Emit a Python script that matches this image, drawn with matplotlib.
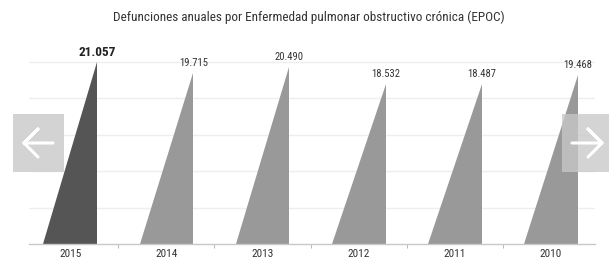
import matplotlib
matplotlib.use('Agg')
import matplotlib.pyplot as plt
import numpy as np
from matplotlib import font_manager
from matplotlib.patches import Polygon, Rectangle
from matplotlib.lines import Line2D

# datos
years = ['2015', '2014', '2013', '2012', '2011', '2010']
deaths = [21057, 19715, 20490, 18532, 18487, 19468]
labels = ['21.057', '19.715', '20.490', '18.532', '18.487', '19.468']
title = 'Defunciones anuales por Enfermedad pulmonar obstructivo crónica (EPOC)'

# fuente estrecha si existe
fam = ['DejaVu Sans']
narrow = False
for cand in ['DejaVu Sans Condensed', 'Liberation Sans Narrow', 'Roboto Condensed']:
    try:
        font_manager.findfont(cand, fallback_to_default=False)
        fam = [cand, 'DejaVu Sans']
        narrow = True
        break
    except Exception:
        pass
plt.rcParams['font.family'] = fam
f = 1.12 if narrow else 1.0

W, H = 609, 257
fig = plt.figure(figsize=(W / 100, H / 100), dpi=100)
fig.patch.set_facecolor('white')

# ejes en pixeles
ax_l, ax_r, ax_b, ax_t = 29, 595, 257 - 244.3, 257 - 40
ax = fig.add_axes([ax_l / W, ax_b / H, (ax_r - ax_l) / W, (ax_t - ax_b) / H])
ymax = (ax_t - ax_b) / (182.6 / max(deaths))
ax.set_xlim(-0.43, 5.46)
ax.set_ylim(0, ymax)

# rejilla
step = max(deaths) / 5
for k in range(1, 6):
    ax.axhline(step * k, color='#eeeeee', lw=1, zorder=0)

hw = 0.28
for i, (y, v) in enumerate(zip(years, deaths)):
    col = '#555555' if i == 0 else '#999999'
    tri = Polygon([(i - hw, 0), (i + hw, 0), (i + hw, v)], closed=True,
                  facecolor=col, edgecolor='none', zorder=2)
    ax.add_patch(tri)
    if i == 0:
        ax.annotate(labels[i], (i + hw, v), xytext=(0, 3), textcoords='offset pixels',
                    ha='center', va='bottom', fontsize=8.5 * f, fontweight='bold',
                    color='#222222')
    else:
        ax.annotate(labels[i], (i + hw, v), xytext=(0, 5), textcoords='offset pixels',
                    ha='center', va='bottom', fontsize=6.8 * f, color='#333333')

for s in ['top', 'right', 'left']:
    ax.spines[s].set_visible(False)
ax.spines['bottom'].set_color('#c8c8c8')
ax.spines['bottom'].set_linewidth(1)
ax.set_yticks([])
ax.set_xticks(range(len(years)))
ax.set_xticklabels(years, fontsize=7.2 * f, color='#333333')
ax.tick_params(axis='x', which='major', length=0, pad=3.4)
ax.set_xticks(np.arange(0.5, 5, 1), minor=True)
ax.tick_params(axis='x', which='minor', length=3, color='#bbbbbb', width=0.8)

fig.text(309 / W, 1 - 17.5 / H, title, ha='center', va='center',
         fontsize=8.5 * f, color='#333333')

# flechas de navegacion (carrusel)
def px(x, y):
    return x / W, 1 - y / H

fig.patches.append(Rectangle(px(13, 172), 51 / W, 58 / H, transform=fig.transFigure,
                             facecolor='#d3d3d3', edgecolor='none', zorder=5))
fig.patches.append(Rectangle(px(562, 172), 47 / W, 58 / H, transform=fig.transFigure,
                             facecolor='#c8c8c8', alpha=0.77, edgecolor='none', zorder=5))

def arrow(tip, tail, dx):
    pts = [(tail, 143), tip, (tip[0] + dx, 129), tip, (tip[0] + dx, 157)]
    xs, ys = zip(*[px(*p) for p in pts])
    fig.lines.append(Line2D(xs, ys, transform=fig.transFigure, color='white',
                            lw=2.2, solid_capstyle='round', solid_joinstyle='round',
                            zorder=6))

arrow((24, 143), 53, 14)
arrow((602, 143), 572, -14)

fig.savefig('out.png', dpi=100, facecolor='white')
